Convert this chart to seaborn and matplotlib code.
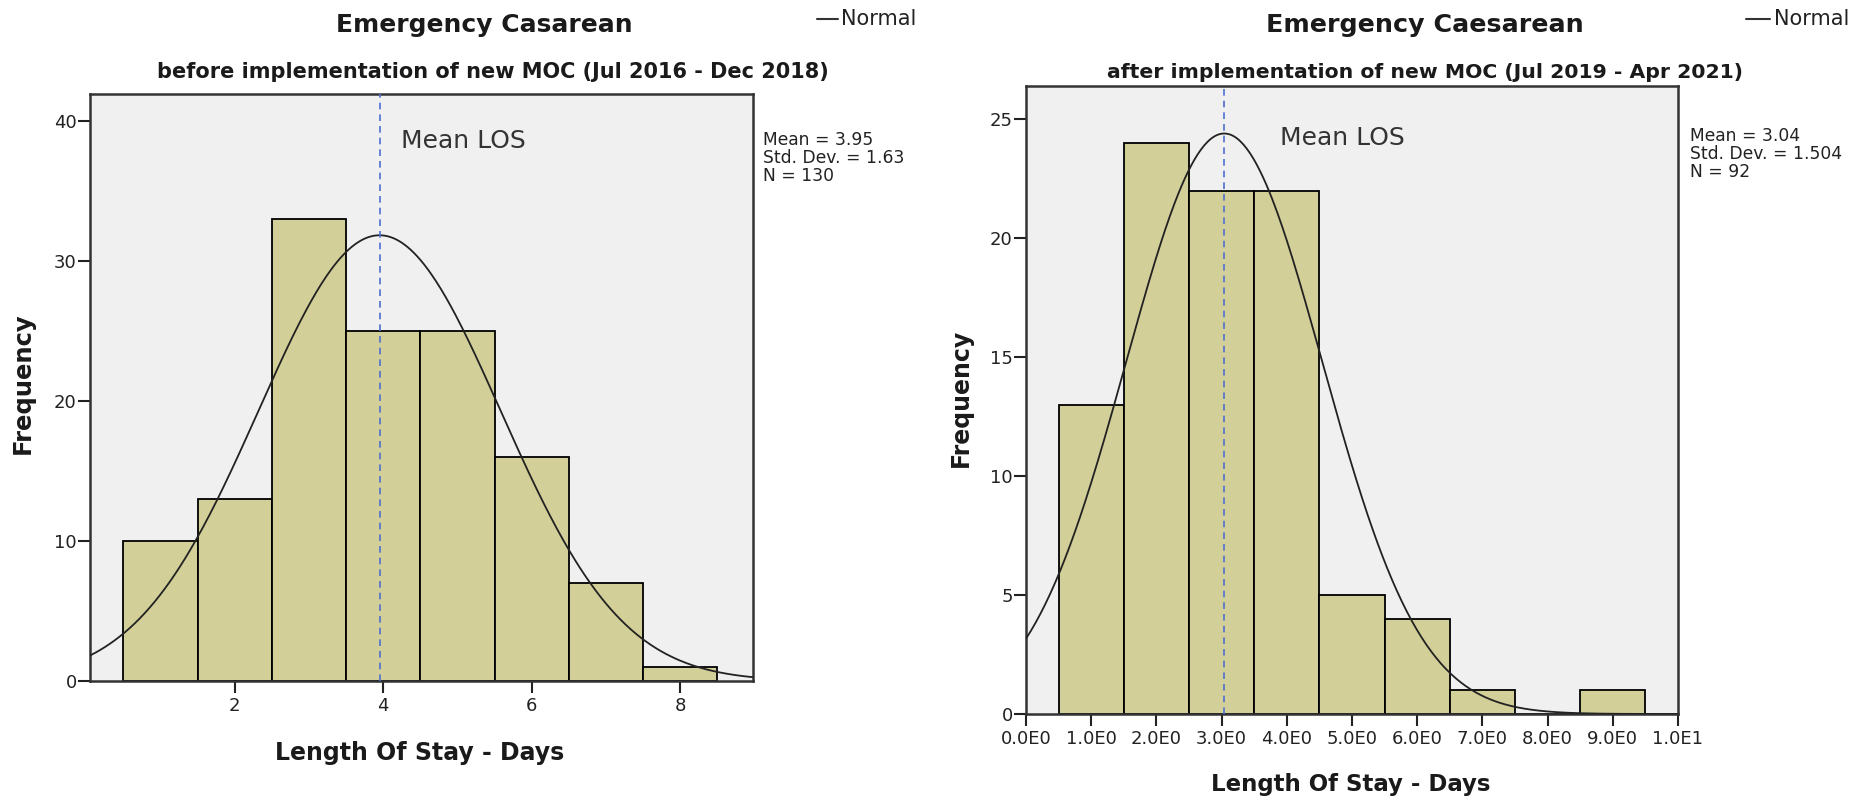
import numpy as np
import pandas as pd
import matplotlib
matplotlib.use("Agg")
import matplotlib.pyplot as plt
import seaborn as sns

# ---- data ----
bins_before = [1, 2, 3, 4, 5, 6, 7, 8]
counts_before = [10, 13, 33, 25, 25, 16, 7, 1]
mean_before, sd_before, n_before = 3.95, 1.63, 130

bins_after = [1, 2, 3, 4, 5, 6, 7, 8, 9]
counts_after = [13, 24, 22, 22, 5, 4, 1, 0, 1]
mean_after, sd_after, n_after = 3.04, 1.504, 92

ticks_before = [2, 4, 6, 8]
ticks_after = [0, 1, 2, 3, 4, 5, 6, 7, 8, 9, 10]
ticklabels_after = ["0.0E0", "1.0E0", "2.0E0", "3.0E0", "4.0E0", "5.0E0",
                    "6.0E0", "7.0E0", "8.0E0", "9.0E0", "1.0E1"]
yticks_before = [0, 10, 20, 30, 40]
yticks_after = [0, 5, 10, 15, 20, 25]

title_before = "Emergency Casarean"
sub_before = "before implementation of new MOC (Jul 2016 - Dec 2018)"
title_after = "Emergency Caesarean"
sub_after = "after implementation of new MOC (Jul 2019 - Apr 2021)"

sns.set_style("white")
plt.rcParams['font.family'] = ['DejaVu Sans']

W, H = 1863, 801
fig = plt.figure(figsize=(W / 100, H / 100), dpi=100)

BAR = "#D3CF98"
BG = "#F0F0F0"
MEANC = "#4F6FCF"
TXT = "#1a1a1a"

def px_axes(l, r, t, b):
    return fig.add_axes([l / W, 1 - b / H, (r - l) / W, (b - t) / H])

def ftext(x, y, s, **kw):
    return fig.text(x / W, 1 - y / H, s, **kw)

def panel(ax, centers, counts, mean, sd, n, xlim, ylim):
    df = pd.DataFrame({"x": centers, "w": counts})
    lo, hi = min(centers) - 0.5, max(centers) + 0.5
    sns.histplot(data=df, x="x", weights="w", binwidth=1, binrange=(lo, hi), ax=ax,
                 color=BAR, edgecolor="black", linewidth=1.3, alpha=1.0,
                 zorder=2)
    xs = np.linspace(xlim[0], xlim[1], 400)
    ys = n / (sd * np.sqrt(2 * np.pi)) * np.exp(-(xs - mean) ** 2 / (2 * sd ** 2))
    sns.lineplot(x=xs, y=ys, ax=ax, color="#222222", linewidth=1.3, zorder=4)
    ax.axvline(mean, color=MEANC, linestyle=(0, (4, 3)), linewidth=1.2, zorder=5)
    ax.set_xlim(*xlim)
    ax.set_ylim(*ylim)
    ax.set_facecolor(BG)
    for s in ax.spines.values():
        s.set_color("#333333")
        s.set_linewidth(1.8)
    ax.tick_params(axis="both", direction="out", length=8.5, width=1.5,
                   color="#222222", labelsize=13, labelcolor="#222222",
                   left=True, bottom=True)
    ax.tick_params(axis="y", pad=1)
    ax.tick_params(axis="x", pad=3)
    ax.set_xlabel("")
    ax.set_ylabel("")

# left panel
ax1 = px_axes(90, 753, 94, 681)
panel(ax1, bins_before, counts_before, mean_before, sd_before, n_before,
      (0.05, 8.98), (0, 41.9))
ax1.set_xticks(ticks_before)
ax1.set_yticks(yticks_before)
ax1.text(4.24, 38.07, "Mean LOS", fontsize=18, color="#333333", va="baseline", ha="left")

# right panel
ax2 = px_axes(1026, 1678, 86, 714)
panel(ax2, bins_after, counts_after, mean_after, sd_after, n_after,
      (0, 10), (0, 26.4))
ax2.set_xticks(ticks_after)
ax2.set_xticklabels(ticklabels_after)
ax2.set_yticks(yticks_after)
ax2.text(3.89, 23.9, "Mean LOS", fontsize=18, color="#333333", va="baseline", ha="left")

# titles
ftext(484, 32, title_before, ha="center", va="baseline",
      fontsize=18.0, fontweight="bold", color=TXT)
ftext(493, 78, sub_before, ha="center", va="baseline",
      fontsize=15, fontweight="bold", color=TXT)
ftext(1425, 32, title_after, ha="center", va="baseline",
      fontsize=18.3, fontweight="bold", color=TXT)
ftext(1425, 78, sub_after, ha="center", va="baseline",
      fontsize=14.7, fontweight="bold", color=TXT)

# axis labels
ftext(23, 383, "Frequency", rotation=90, ha="center", va="center",
      fontsize=17.5, fontweight="bold", color=TXT)
ftext(961, 398, "Frequency", rotation=90, ha="center", va="center",
      fontsize=17, fontweight="bold", color=TXT)
ftext(420, 760, "Length Of Stay - Days", ha="center", va="baseline",
      fontsize=17, fontweight="bold", color=TXT)
ftext(1351, 791, "Length Of Stay - Days", ha="center", va="baseline",
      fontsize=16.5, fontweight="bold", color=TXT)

# stats boxes
ftext(763, 131, f"Mean = {mean_before}\nStd. Dev. = {sd_before}\nN = {n_before}",
      ha="left", va="top", fontsize=12.3, color="#222222", linespacing=1.0)
ftext(1690, 127, f"Mean = {mean_after}\nStd. Dev. = {sd_after}\nN = {n_after}",
      ha="left", va="top", fontsize=12.3, color="#222222", linespacing=1.0)

# "Normal" legend keys
for x0, x1, tx in [(817, 838, 841), (1746, 1770, 1774)]:
    fig.add_artist(plt.Line2D([x0 / W, x1 / W], [1 - 19 / H, 1 - 19 / H],
                              color="#333333", linewidth=1.5))
    ftext(tx, 19, "Normal", ha="left", va="center", fontsize=15, color="#222222")

fig.savefig("out.png", dpi=100, facecolor="white")
